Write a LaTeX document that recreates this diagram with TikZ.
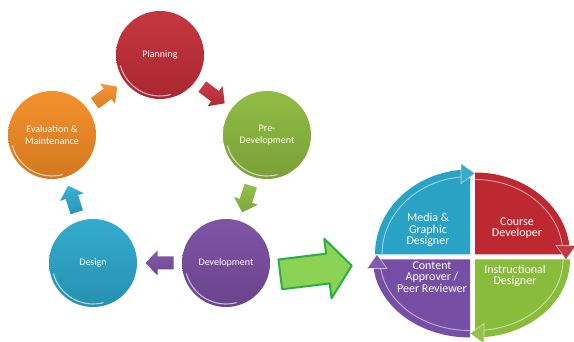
\documentclass[tikz,border=0pt]{standalone}
\usepackage{fontspec}
\setmainfont{Carlito}
\usetikzlibrary{calc}

% stage colours
\definecolor{cPlan}{RGB}{196,46,56}
\definecolor{cPre}{RGB}{140,186,62}
\definecolor{cDev}{RGB}{122,78,162}
\definecolor{cDes}{RGB}{44,168,204}
\definecolor{cEval}{RGB}{244,140,36}
% team quarter colours
\definecolor{qBlue}{RGB}{42,162,198}
\definecolor{qRed}{RGB}{190,40,48}
\definecolor{qGreen}{RGB}{138,188,60}
\definecolor{qPurple}{RGB}{118,78,164}
% hand-off arrow
\definecolor{aFill}{RGB}{140,210,84}
\definecolor{aLine}{RGB}{40,176,70}

\tikzset{
  stage/.style={circle, minimum size=88pt, inner sep=0pt, text=white,
    font=\fontsize{10}{12}\selectfont, align=center,
    top color=#1!96!white, bottom color=#1!86!black,
    path picture={
      \draw[white, opacity=.65, line width=1.1pt]
        (path picture bounding box.center) ++(195:41pt)
        arc[start angle=195, end angle=285, radius=41pt];
    }},
  % block arrow centred on the origin, pointing along +x:
  % length, shaft width, head width, head length
  pics/blockarrow/.style n args={4}{code={
    \path[pic actions] (-#1/2,#2/2) -- (#1/2-#4,#2/2) -- (#1/2-#4,#3/2) -- (#1/2,0)
      -- (#1/2-#4,-#3/2) -- (#1/2-#4,-#2/2) -- (-#1/2,-#2/2) -- cycle;
  }},
  cyclearrow/.style={top color=#1!92!white, bottom color=#1!90!black},
  bigarrow/.style={fill=aFill, draw=aLine, line width=2pt, line join=round},
  qlabel/.style={text=white, align=center, font=\fontsize{12}{11.5}\selectfont},
  % one quarter of the team wheel: colour, radius along the arc start, radius at the arrow end
  pics/quarter/.style n args={3}{code={
    \fill[#1] (0,0) -- (-#2,0) arc[start angle=180, end angle=90, x radius=#2pt, y radius=#3pt] -- cycle;
    \pgfmathsetmacro\ia{#2-7}\pgfmathsetmacro\ib{#3-7}
    \draw[white, opacity=.55, line width=.9pt]
      (-\ia,0) arc[start angle=180, end angle=96, x radius=\ia pt, y radius=\ib pt];
    \fill[#1!92!white, draw=white, draw opacity=.6, line width=.6pt]
      (-9,#3+6) -- (5,#3-4) -- (-9,#3-14) -- cycle;
  }}
}

% a cycle arrow half way between two stages, turned towards the second
\newcommand\cyclestep[3]{%
  \path let \p1=($(#2)-(#1)$), \n1={atan2(\y1,\x1)} in
    ($(#1)!.5!(#2)$) pic[rotate=\n1, cyclearrow=#3] {blockarrow={28}{13}{25}{12}};%
}

\begin{document}
\begin{tikzpicture}[x=1pt,y=1pt]
\useasboundingbox (0,0) rectangle (574,342);

% life-cycle stages
\node[stage=cPlan] (plan) at (160,287) {Planning};
\node[stage=cPre]  (pre)  at (267,207) {Pre-\\Development};
\node[stage=cDev]  (dev)  at (226,79)  {Development};
\node[stage=cDes]  (des)  at (93,79)   {Design};
\node[stage=cEval] (eval) at (52,207)  {Evaluation \&\\Maintenance};

% cycle arrows
\cyclestep{eval}{plan}{cEval}
\cyclestep{plan}{pre}{cPlan}
\cyclestep{pre}{dev}{cPre}
\cyclestep{dev}{des}{cDev}
\cyclestep{des}{eval}{cDes}

% hand-off to the team
\coordinate (handoff) at (316,72);
\pic[rotate=7, bigarrow] at (handoff) {blockarrow={72}{30}{60}{24}};

% team wheel
\pic at (470,87.5) {quarter={qBlue}{95}{85}};
\pic[rotate=-90] at (475,87.5) {quarter={qRed}{82}{95}};
\pic[rotate=180] at (475,82.5) {quarter={qGreen}{95}{78}};
\pic[rotate=90] at (470,82.5) {quarter={qPurple}{78}{97}};

\node[qlabel] (media)   at (428,112) {Media \&\\Graphic\\Designer};
\node[qlabel] (course)  at (517,114) {Course\\Developer};
\node[qlabel] (content) at (432,65)  {Content\\Approver /\\Peer Reviewer};
\node[qlabel] (instr)   at (515,66)  {Instructional\\Designer};
\end{tikzpicture}
\end{document}
